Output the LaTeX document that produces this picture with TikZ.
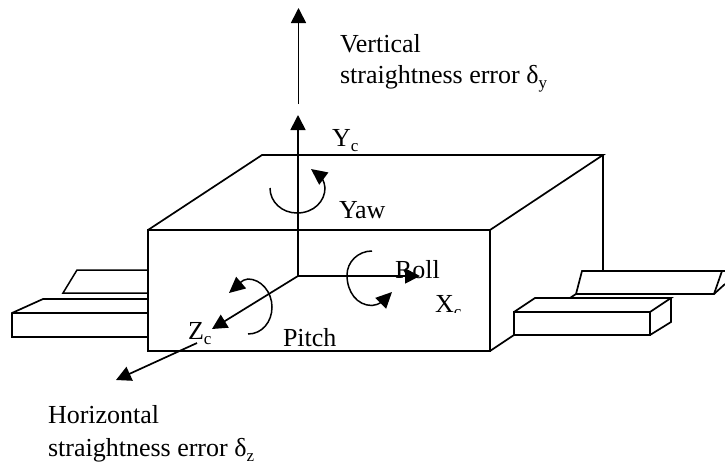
\documentclass[tikz,border=0pt]{standalone}
\usepackage{fontspec}
\setmainfont{Liberation Serif}
\usetikzlibrary{arrows.meta}
\newcommand{\subtxt}[1]{\raisebox{-0.2em}{\fontsize{17}{18}\selectfont #1}}
\tikzset{
  ln/.style={line width=1.7pt,draw=black,line join=miter},
  thinln/.style={line width=1.5pt,draw=black},
  arr/.style={ln,-{Triangle[length=15pt,width=15pt]}},
  rot/.style={line width=1.5pt,draw=black,-{Triangle[length=16pt,width=15pt]}},
  lbl/.style={anchor=base west,inner sep=0pt,outer sep=0pt,font=\fontsize{26}{30}\selectfont,text=black}
}
\begin{document}
\begin{tikzpicture}[x=1pt,y=-1pt]
\useasboundingbox (0,0) rectangle (725,464);
% key points
\coordinate (fTL) at (148,230);
\coordinate (fTR) at (490,230);
\coordinate (fBR) at (490,351);
\coordinate (fBL) at (148,351);
\coordinate (bTL) at (262,155);
\coordinate (bTR) at (603,155);
\coordinate (bBR) at (603,271);
\coordinate (o) at (298,276);
% box
\draw[ln] (fTL) -- (fTR) -- (fBR) -- (fBL) -- cycle;
\draw[ln] (fTL) -- (bTL) -- (bTR) -- (fTR);
\draw[ln] (bTR) -- (bBR);
\coordinate (sideB) at (514,335);
\draw[ln] (fBR) -- (sideB);
% left rails
\coordinate (la) at (148,270); \coordinate (lb) at (77,270);
\coordinate (lc) at (63,293);  \coordinate (ld) at (148,293);
\draw[thinln] (la) -- (lb) -- (lc) -- (ld);
\coordinate (le) at (148,299); \coordinate (lf) at (43,299);
\coordinate (lg) at (12,313);  \coordinate (lh) at (12,337);
\coordinate (li) at (148,337); \coordinate (lj) at (148,313);
\draw[ln] (le) -- (lf) -- (lg) -- (lh) -- (li);
\draw[ln] (lg) -- (lj);
% right upper rail
\coordinate (ra) at (582,271); \coordinate (rb) at (722,271);
\coordinate (rc) at (714,294); \coordinate (rd) at (576,294);
\coordinate (re) at (570,298); \coordinate (rf) at (725,284);
\coordinate (rg) at (725,271);
\draw[ln] (re) -- (rd) -- (ra) -- (rg);
\draw[ln] (rb) -- (rc) -- (rd);
\draw[ln] (rc) -- (rf);
% right lower rail
\coordinate (sa) at (514,312); \coordinate (sb) at (650,312);
\coordinate (sc) at (650,335); \coordinate (sd) at (535,298);
\coordinate (se) at (671,298); \coordinate (sf) at (671,322);
\draw[ln] (sa) -- (sb) -- (sc) -- (sideB) -- cycle;
\draw[ln] (sa) -- (sd) -- (se) -- (sb);
\draw[ln] (se) -- (sf) -- (sc);
% axes
\coordinate (yTip) at (298,115);
\coordinate (xTip) at (420,276);
\coordinate (zTip) at (212,329);
\draw[arr] (o) -- (yTip);
\draw[arr] (o) -- (xTip);
\draw[arr] (o) -- (zTip);
\coordinate (vS) at (298.5,104); \coordinate (vT) at (298.5,8);
\draw[arr] (vS) -- (vT);
\coordinate (hS) at (197,343); \coordinate (hT) at (116,380);
\draw[arr] (hS) -- (hT);
% rotations
\coordinate (yawS) at (270,188); \coordinate (yawM) at (297,213); \coordinate (yawR) at (325,188); \coordinate (yawT) at (311,169);
\draw[rot] (yawS) .. controls (270,202) and (282,213) .. (yawM)
  .. controls (314,213) and (325,201) .. (yawR)
  .. controls (325,181) and (319,175) .. (yawT);
\coordinate (pS) at (248,334); \coordinate (pM) at (272,307); \coordinate (pU) at (248,279); \coordinate (pT) at (229,293);
\draw[rot] (pS) .. controls (262,334) and (272,322) .. (pM)
  .. controls (272,292) and (261,279) .. (pU)
  .. controls (242,279) and (236,287) .. (pT);
\coordinate (rS) at (372,251); \coordinate (rM) at (347,275); \coordinate (rB) at (372,305.5); \coordinate (rT) at (392,292);
\draw[rot] (rS) .. controls (358,251) and (347,262) .. (rM)
  .. controls (347,292) and (357,305.5) .. (rB)
  .. controls (379,305.5) and (386,298) .. (rT);
% labels
\node[lbl] (tV) at (340,52) {Vertical};
\node[lbl] (tS1) at (340,83) {straightness error δ\subtxt{y}};
\node[lbl] (tY) at (332,146) {Y\subtxt{c}};
\node[lbl] (tYaw) at (339,218) {Yaw};
\node[lbl] (tR) at (395,278) {Roll};
\begin{scope}
\clip (425,280) rectangle (480,312);
\node[lbl] (tX) at (435,312) {X\subtxt{c}};
\end{scope}
\node[lbl] (tP) at (283,346) {Pitch};
\node[lbl] (tZ) at (188,339) {Z\subtxt{c}};
\node[lbl] (tH) at (48,423) {Horizontal};
\node[lbl] (tS2) at (48,456) {straightness error δ\subtxt{z}};
\end{tikzpicture}
\end{document}
